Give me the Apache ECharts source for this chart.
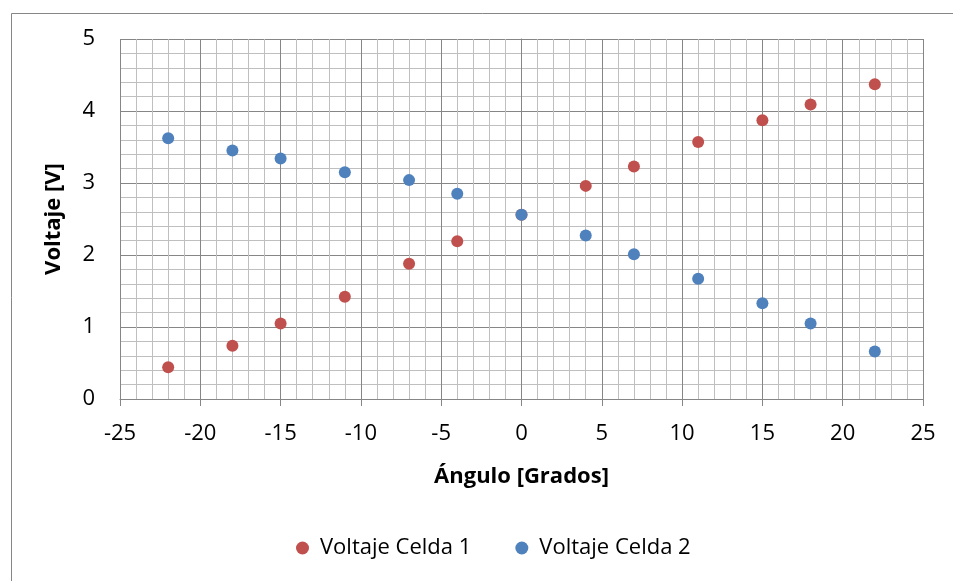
<!DOCTYPE html>
<html><head><meta charset="utf-8">
<script src="https://cdn.jsdelivr.net/npm/echarts@6/dist/echarts.min.js"></script>
<style>html,body{margin:0;padding:0;background:#fff}#c{width:953px;height:581px}</style>
</head><body><div id="c"></div>
<script>
var angles = [-22, -18, -15, -11, -7, -4, 0, 4, 7, 11, 15, 18, 22];
var celda1 = [0.44, 0.74, 1.05, 1.42, 1.88, 2.19, 2.56, 2.96, 3.23, 3.57, 3.87, 4.09, 4.37];
var celda2 = [3.62, 3.45, 3.34, 3.15, 3.04, 2.85, 2.56, 2.27, 2.01, 1.67, 1.33, 1.05, 0.66];
var seriesNames = ['Voltaje Celda 1', 'Voltaje Celda 2'];
var xName = 'Ángulo [Grados]';
var yName = 'Voltaje [V]';

function pairs(ys){ return angles.map(function(a,i){ return [a, ys[i]]; }); }
var font = '"Open Sans", "Noto Sans", sans-serif';
var fs = 22;
var chart = echarts.init(document.getElementById('c'));
chart.setOption({
  animation: false,
  textStyle: {fontFamily: font},
  graphic: [{type:'rect', left: 9, top: 11, shape:{width: 1100, height: 1100}, style:{fill:'none', stroke:'#868686', lineWidth:1}, z:-10}],
  grid: {left: 120, right: 30, top: 39, bottom: 182},
  legend: {
    data: seriesNames, left: 291, top: 532, icon: 'circle', itemWidth: 13, itemHeight: 13, itemGap: 44,
    textStyle: {fontSize: fs, color: '#000', fontFamily: font, padding: [0, 0, 0, 6]}
  },
  xAxis: {
    type: 'value', min: -25, max: 25, interval: 5,
    name: xName, nameLocation: 'middle', nameGap: 67,
    nameTextStyle: {fontSize: fs, fontWeight: 'bold', color: '#000', fontFamily: font},
    axisLine: {show: true, onZero: false, lineStyle: {color: '#868686', width: 1}},
    axisTick: {show: true, inside: false, length: 7, lineStyle: {color: '#868686'}},
    axisLabel: {fontSize: fs, color: '#000', margin: 24, fontFamily: font},
    splitLine: {show: true, lineStyle: {color: '#868686', width: 1}},
    minorTick: {show: false, splitNumber: 5},
    minorSplitLine: {show: true, lineStyle: {color: '#bfbfbf', width: 1}}
  },
  yAxis: {
    type: 'value', min: 0, max: 5, interval: 1,
    name: yName, nameLocation: 'middle', nameGap: 55,
    nameTextStyle: {fontSize: fs, fontWeight: 'bold', color: '#000', fontFamily: font},
    axisLine: {show: true, lineStyle: {color: '#868686', width: 1}},
    axisTick: {show: false},
    axisLabel: {fontSize: fs, color: '#000', margin: 25, fontFamily: font},
    splitLine: {show: true, lineStyle: {color: '#868686', width: 1}},
    minorTick: {show: false, splitNumber: 5},
    minorSplitLine: {show: true, lineStyle: {color: '#bfbfbf', width: 1}}
  },
  series: [
    {name: seriesNames[0], type: 'scatter', data: pairs(celda1), symbolSize: 12, itemStyle: {color: '#C0504D', opacity: 1}, z: 2},
    {name: seriesNames[1], type: 'scatter', data: pairs(celda2), symbolSize: 12, itemStyle: {color: '#4F81BD', opacity: 1}, z: 3}
  ]
});
</script></body></html>
